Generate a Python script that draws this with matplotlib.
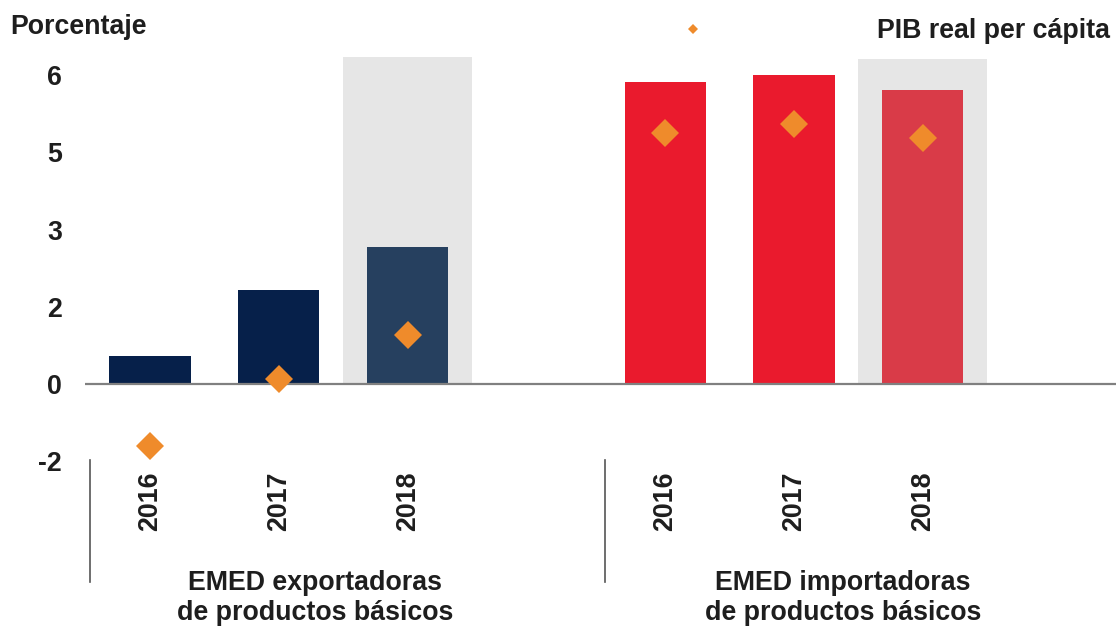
import matplotlib
matplotlib.use("Agg")
import matplotlib.pyplot as plt
import matplotlib.transforms as mtransforms
from matplotlib.lines import Line2D

plt.rcParams['font.family'] = ['Liberation Sans', 'DejaVu Sans']

# ---- data ----
years = ["2016", "2017", "2018"]
groups = ["EMED exportadoras\nde productos básicos", "EMED importadoras\nde productos básicos"]
exp_bars = [0.54, 1.82, 2.66]
imp_bars = [5.87, 6.00, 5.71]
exp_gdp_pc = [-1.20, 0.09, 0.95]
imp_gdp_pc = [4.87, 5.05, 4.78]
ytick_vals = [-1.5, 0, 1.5, 3, 4.5, 6]
ytick_labels = ["-2", "0", "2", "3", "5", "6"]
legend_label = "PIB real per cápita"
ylabel = "Porcentaje"

# ---- layout ----
W, H = 1116, 627
fig = plt.figure(figsize=(W / 100, H / 100), dpi=100)
ax = fig.add_axes([85 / W, 1 - 470 / H, 1 - 85 / W, (470 - 50) / H])

exp_x = [0, 1, 2]
imp_x = [4, 5, 6]
bw = 0.63
fs = 19.3

navy = "#06204a"
navy_light = "#26405f"
red = "#ea1a2d"
red_light = "#d93b48"
orange = "#ef8b2b"
shade = "#e6e6e6"
txt = "#1e1e1e"

# highlight of forecast year
ax.bar([exp_x[2], imp_x[2]], [6.36, 6.31], width=1.0, color=shade, zorder=1)

ax.bar(exp_x, exp_bars, width=bw, color=[navy, navy, navy_light], zorder=2)
ax.bar(imp_x, imp_bars, width=bw, color=[red, red, red_light], zorder=2)

ax.axhline(0, color="#808080", lw=1.6, zorder=3)

ax.plot(exp_x + imp_x, exp_gdp_pc + imp_gdp_pc, linestyle="none", marker="D",
        markersize=14.5, color=orange, markeredgewidth=0, zorder=4, label=legend_label)

ax.set_xlim(-0.505, 7.5)
ax.set_ylim(-1.67, 6.49)
ax.set_yticks(ytick_vals)
ax.set_yticklabels(ytick_labels)
ax.set_xticks(exp_x + imp_x)
ax.set_xticklabels(years + years, rotation=90)
ax.tick_params(axis="y", length=0, pad=16.5, labelsize=fs, labelcolor=txt)
ax.tick_params(axis="x", length=0, pad=1, labelsize=fs, labelcolor=txt)
for lbl in ax.get_xticklabels() + ax.get_yticklabels():
    lbl.set_fontweight("bold")
for s in ax.spines.values():
    s.set_visible(False)
ax.set_facecolor("none")

# group separators and labels
tr = mtransforms.blended_transform_factory(ax.transData, fig.transFigure)
for xs in [-0.47, 3.53]:
    fig.add_artist(Line2D([xs, xs], [1 - 460 / H, 1 - 582 / H], transform=tr,
                          color="#555555", lw=1.2))
for xc, g in zip([1.28, 5.38], groups):
    fig.text(xc, 1 - 598 / H, g, transform=tr, ha="center", va="center",
             fontsize=fs, fontweight="bold", color=txt, linespacing=1.15)

fig.text(10 / W, 1 - 27 / H, ylabel, ha="left", va="center", fontsize=fs,
         fontweight="bold", color=txt)

fig.legend(loc="center right", bbox_to_anchor=(1110 / W, 1 - 31 / H), frameon=False,
           borderaxespad=0, borderpad=0, handlelength=1.0, handletextpad=6.35,
           markerscale=0.37, prop={"size": fs, "weight": "bold"}, labelcolor=txt)

fig.savefig("out.png", dpi=100)
